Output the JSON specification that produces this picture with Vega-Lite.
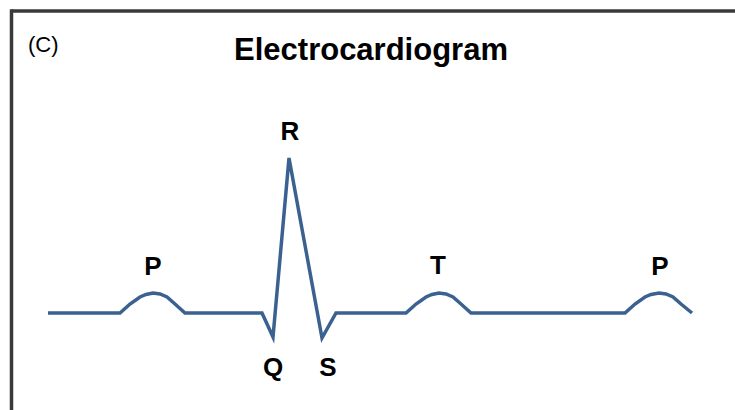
{
  "$schema": "https://vega.github.io/schema/vega-lite/v6.json",
  "width": 735,
  "height": 410,
  "autosize": {"type": "fit", "contains": "padding"},
  "padding": 0,
  "background": "white",
  "config": {"view": {"stroke": null}},
  "datasets": {
    "ecg": [
      {"t": 0, "v": 0},
      {"t": 72, "v": 0},
      {"t": 82, "v": 9},
      {"t": 92, "v": 16},
      {"t": 98, "v": 18.5},
      {"t": 105, "v": 20},
      {"t": 112, "v": 19},
      {"t": 119, "v": 16},
      {"t": 127, "v": 9},
      {"t": 137, "v": 0},
      {"t": 214, "v": 0},
      {"t": 225, "v": -24},
      {"t": 241, "v": 155},
      {"t": 274, "v": -25},
      {"t": 288, "v": 0},
      {"t": 358, "v": 0},
      {"t": 368, "v": 9},
      {"t": 378, "v": 16},
      {"t": 384, "v": 18.5},
      {"t": 391, "v": 20},
      {"t": 398, "v": 19},
      {"t": 405, "v": 16},
      {"t": 413, "v": 9},
      {"t": 423, "v": 0},
      {"t": 577, "v": 0},
      {"t": 587, "v": 9},
      {"t": 597, "v": 16},
      {"t": 603, "v": 18.5},
      {"t": 611, "v": 20},
      {"t": 618, "v": 19},
      {"t": 625, "v": 16},
      {"t": 633, "v": 9},
      {"t": 644, "v": 0}
    ],
    "waves": [
      {"label": "P", "t": 105, "v": 46},
      {"label": "R", "t": 242, "v": 181},
      {"label": "T", "t": 390, "v": 47},
      {"label": "P", "t": 612, "v": 46},
      {"label": "Q", "t": 225, "v": -55},
      {"label": "S", "t": 280, "v": -55}
    ],
    "heading": [
      {"label": "Electrocardiogram", "t": 323, "v": 253}
    ],
    "panel": [
      {"label": "(C)", "t": -20, "v": 261}
    ],
    "frame": [
      {"t": -36.5, "t2": 687, "v": 302, "v2": 302},
      {"t": -36.5, "t2": -36.5, "v": 303.7, "v2": -97}
    ]
  },
  "layer": [
    {
      "data": {"name": "frame"},
      "mark": {"type": "rule", "stroke": "#3a3a3a", "strokeWidth": 3.5, "clip": true},
      "encoding": {
        "x": {"field": "t", "type": "quantitative", "scale": {"domain": [-48, 687], "nice": false, "zero": false}, "axis": null},
        "x2": {"field": "t2"},
        "y": {"field": "v", "type": "quantitative", "scale": {"domain": [-97, 313], "nice": false, "zero": false}, "axis": null},
        "y2": {"field": "v2"}
      }
    },
    {
      "data": {"name": "ecg"},
      "mark": {"type": "line", "stroke": "#3b6191", "strokeWidth": 3.5, "strokeJoin": "miter", "strokeCap": "butt"},
      "encoding": {
        "x": {"field": "t", "type": "quantitative"},
        "y": {"field": "v", "type": "quantitative"}
      }
    },
    {
      "data": {"name": "waves"},
      "mark": {"type": "text", "font": "Liberation Sans", "fontWeight": "bold", "fontSize": 26, "color": "black", "align": "center", "baseline": "middle"},
      "encoding": {
        "x": {"field": "t", "type": "quantitative"},
        "y": {"field": "v", "type": "quantitative"},
        "text": {"field": "label"}
      }
    },
    {
      "data": {"name": "heading"},
      "mark": {"type": "text", "font": "Liberation Sans", "fontWeight": "bold", "fontSize": 31, "color": "black", "align": "center", "baseline": "alphabetic"},
      "encoding": {
        "x": {"field": "t", "type": "quantitative"},
        "y": {"field": "v", "type": "quantitative"},
        "text": {"field": "label"}
      }
    },
    {
      "data": {"name": "panel"},
      "mark": {"type": "text", "font": "Liberation Sans", "fontSize": 22, "color": "black", "align": "left", "baseline": "alphabetic"},
      "encoding": {
        "x": {"field": "t", "type": "quantitative"},
        "y": {"field": "v", "type": "quantitative"},
        "text": {"field": "label"}
      }
    }
  ]
}
